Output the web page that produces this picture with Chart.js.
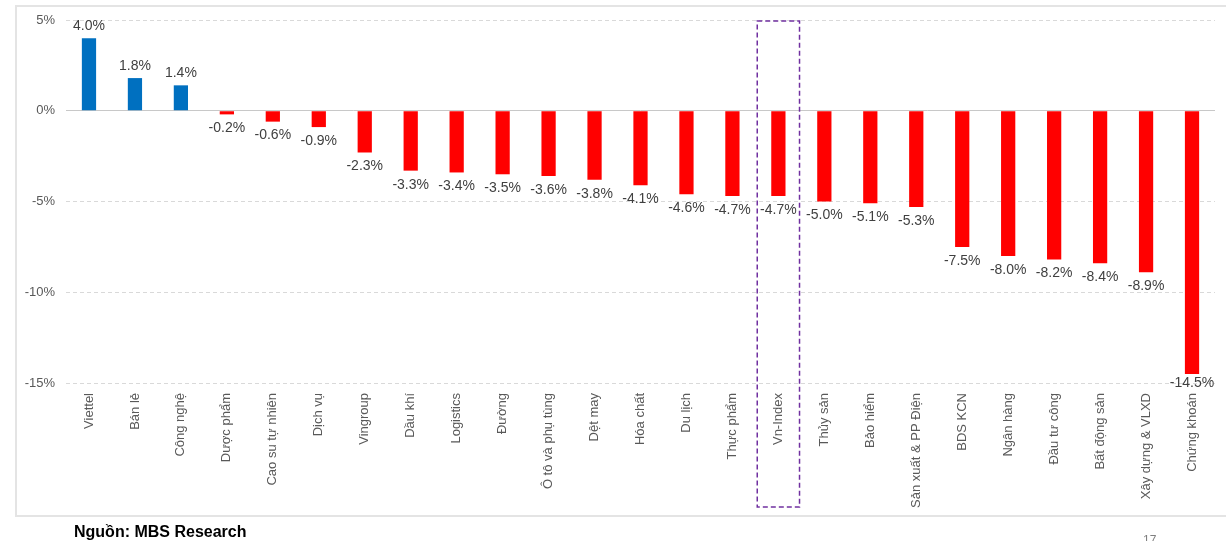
<!DOCTYPE html>
<html>
<head>
<meta charset="utf-8">
<script src="https://cdn.jsdelivr.net/npm/chart.js@4/dist/chart.umd.min.js"></script>
<style>
  html, body { margin: 0; padding: 0; background: #fff; }
  body { width: 1226px; height: 541px; position: relative; overflow: hidden; font-family: "Liberation Sans", Arial, sans-serif; }
  #frame { position: absolute; left: 15px; top: 5px; width: 1220px; height: 512px; border: 2px solid #e4e4e4; box-sizing: border-box; }
  #wrap { position: absolute; left: 0; top: 0; width: 1226px; height: 541px; }
  #source { position: absolute; left: 74px; top: 523px; font-size: 16px; font-weight: bold; color: #000; }
  #page { position: absolute; left: 1143px; top: 533px; font-size: 12px; color: #7f7f7f; }
</style>
</head>
<body>
<div id="frame"></div>
<div id="wrap"><canvas id="chart" width="1226" height="541"></canvas></div>
<div id="source">Nguồn: MBS Research</div>
<div id="page">17</div>
<script>
// ======================
// Dữ liệu
// ======================
const nganh = [
  "Viettel", "Bán lẻ", "Công nghệ", "Dược phẩm", "Cao su tự nhiên", "Dịch vụ",
  "Vingroup", "Dầu khí", "Logistics", "Đường", "Ô tô và phụ tùng", "Dệt may",
  "Hóa chất", "Du lịch", "Thực phẩm", "Vn-Index", "Thủy sản", "Bảo hiểm",
  "Sản xuất & PP Điện", "BDS KCN", "Ngân hàng", "Đầu tư công", "Bất động sản",
  "Xây dựng & VLXD", "Chứng khoán"
];
const bienDong = [
  4.0, 1.8, 1.4, -0.2, -0.6, -0.9, -2.3, -3.3, -3.4, -3.5, -3.6, -3.8,
  -4.1, -4.6, -4.7, -4.7, -5.0, -5.1, -5.3, -7.5, -8.0, -8.2, -8.4, -8.9, -14.5
];
const yTicks = [5, 0, -5, -10, -15];
const nhanNoiBat = "Vn-Index";

const xanh = "#0070C0";
const do_ = "#FF0000";

// nhãn số liệu trên/dưới cột
const nhanCot = {
  id: "nhanCot",
  afterDatasetsDraw(chart) {
    const ctx = chart.ctx;
    const meta = chart.getDatasetMeta(0);
    const day = chart.chartArea.bottom - 7;
    ctx.save();
    ctx.font = "14px 'Liberation Sans', Arial, sans-serif";
    ctx.fillStyle = "#404040";
    ctx.textAlign = "center";
    meta.data.forEach((bar, i) => {
      const v = bienDong[i];
      const txt = v.toFixed(1) + "%";
      if (v >= 0) {
        ctx.textBaseline = "bottom";
        ctx.fillText(txt, bar.x, bar.y - 5);
      } else {
        ctx.textBaseline = "top";
        ctx.fillText(txt, bar.x, Math.min(bar.y + 7, day));
      }
    });
    ctx.restore();
  }
};

// khung nét đứt quanh Vn-Index
const khungVnIndex = {
  id: "khungVnIndex",
  afterDraw(chart) {
    const x = chart.scales.x;
    const idx = nganh.indexOf(nhanNoiBat);
    const cx = x.getPixelForValue(idx);
    const w = (x.getPixelForValue(1) - x.getPixelForValue(0)) * 0.92;
    const top = chart.chartArea.top + 1;
    const bottom = chart.chartArea.bottom + 124;
    const ctx = chart.ctx;
    ctx.save();
    ctx.strokeStyle = "#7030A0";
    ctx.lineWidth = 1.5;
    ctx.setLineDash([5, 3]);
    ctx.strokeRect(cx - w / 2, top, w, bottom - top);
    ctx.restore();
  }
};

function carregarGrafico() {
  const ctx = document.getElementById("chart").getContext("2d");
  new Chart(ctx, {
    type: "bar",
    data: {
      labels: nganh,
      datasets: [{
        data: bienDong,
        backgroundColor: bienDong.map(v => v >= 0 ? xanh : do_),
        barPercentage: 0.31,
        categoryPercentage: 1.0
      }]
    },
    options: {
      responsive: false,
      animation: false,
      layout: { padding: { left: 0, right: 11, top: 20, bottom: 0 } },
      plugins: {
        legend: { display: false },
        tooltip: { enabled: false }
      },
      scales: {
        x: {
          grid: { display: false },
          border: { display: false },
          ticks: {
            autoSkip: false,
            minRotation: 90,
            maxRotation: 90,
            padding: 2,
            color: "#595959",
            font: { family: "'Liberation Sans', Arial, sans-serif", size: 13 }
          },
          afterFit(scale) { scale.height = 158; }
        },
        y: {
          min: -15,
          max: 5,
          afterBuildTicks(scale) { scale.ticks = yTicks.map(v => ({ value: v })); },
          grid: {
            drawTicks: false,
            color: c => c.tick && c.tick.value === 0 ? "#c8c8c8" : "#d9d9d9",
            lineWidth: 1
          },
          border: {
            display: false,
            dash: c => c.tick && c.tick.value === 0 ? [] : [4, 3]
          },
          ticks: {
            padding: 11,
            color: "#595959",
            font: { family: "'Liberation Sans', Arial, sans-serif", size: 13 },
            callback: v => v + "%"
          },
          afterFit(scale) { scale.width = 66; }
        }
      }
    },
    plugins: [nhanCot, khungVnIndex]
  });
}

document.addEventListener("DOMContentLoaded", () => {
  carregarGrafico();
});
</script>
</body>
</html>
